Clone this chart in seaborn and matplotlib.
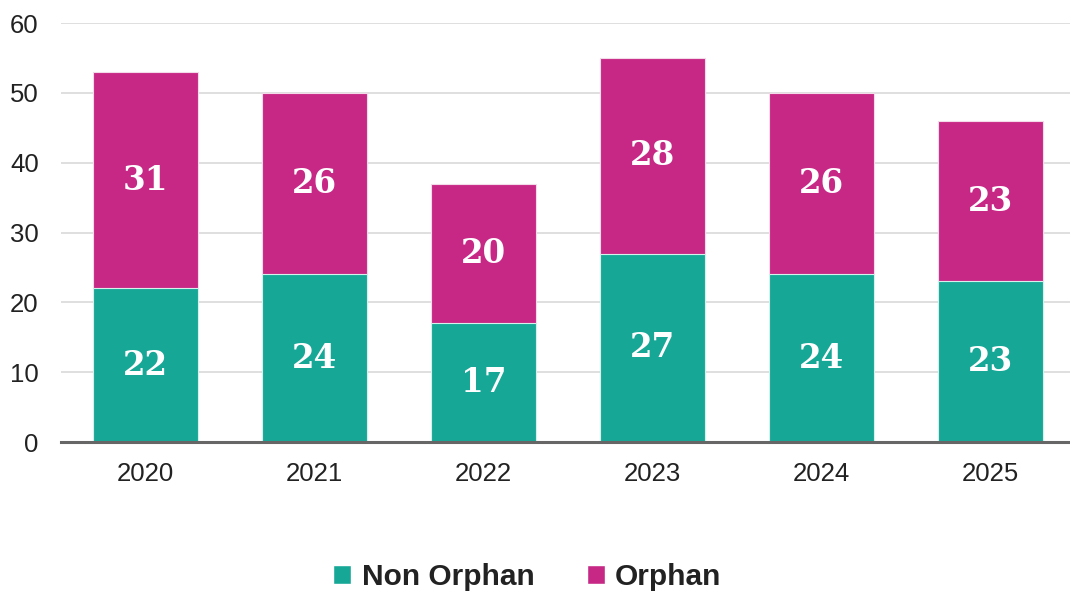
import numpy as np
import pandas as pd
import seaborn as sns
import matplotlib.pyplot as plt
from matplotlib.patches import Patch

# data
years = ['2020', '2021', '2022', '2023', '2024', '2025']
non_orphan = [22, 24, 17, 27, 24, 23]
orphan = [31, 26, 20, 28, 26, 23]

teal = '#17a797'
magenta = '#c72886'

df = pd.DataFrame({'year': years, 'non_orphan': non_orphan, 'orphan': orphan})
df['total'] = df['non_orphan'] + df['orphan']

sns.set_style('white')
plt.rcParams['font.family'] = ['Liberation Sans', 'DejaVu Sans']

fig = plt.figure(figsize=(10.7, 5.91), dpi=100)
ax = fig.add_axes([0.057, 0.252, 0.948, 0.709])

# stacked: total bar in magenta, non orphan drawn over it in teal
sns.barplot(data=df, x='year', y='total', color=magenta, width=0.62,
            edgecolor='#f4dbe9', linewidth=0.8, saturation=1, ax=ax, zorder=2)
sns.barplot(data=df, x='year', y='non_orphan', color=teal, width=0.62,
            edgecolor='#d6f0ec', linewidth=0.8, saturation=1, ax=ax, zorder=3)

# value labels
for i, row in df.iterrows():
    ax.text(i, row['non_orphan'] / 2, str(row['non_orphan']), ha='center', va='center',
            color='white', fontsize=23.5, fontweight='bold', family='DejaVu Serif', zorder=4)
    ax.text(i, row['non_orphan'] + row['orphan'] / 2, str(row['orphan']), ha='center',
            va='center', color='white', fontsize=23.5, fontweight='bold',
            family='DejaVu Serif', zorder=4)

ax.set_ylim(0, 60)
ax.set_xlim(-0.5, 5.5)
ax.set_yticks(range(0, 61, 10))
ax.yaxis.grid(True, color='#d9d9d9', linewidth=1.2, zorder=0)
ax.set_axisbelow(True)
for s in ['top', 'right', 'left']:
    ax.spines[s].set_visible(False)
ax.spines['bottom'].set_color('#666666')
ax.spines['bottom'].set_linewidth(2.2)
ax.spines['bottom'].set_zorder(5)
ax.tick_params(axis='y', length=0, pad=16, labelsize=18.5, labelcolor='#222222')
ax.tick_params(axis='x', length=0, pad=14, labelsize=18.5, labelcolor='#222222')
ax.set_xlabel('')
ax.set_ylabel('')

handles = [Patch(facecolor=teal, label='Non Orphan'), Patch(facecolor=magenta, label='Orphan')]
fig.legend(handles=handles, loc='center', bbox_to_anchor=(0.493, 0.023), ncol=2,
           frameon=False, handlelength=0.6, handleheight=0.6, handletextpad=0.35,
           columnspacing=1.75, prop={'size': 21.5, 'weight': 'bold'}, labelcolor='#222222')

fig.savefig('out.png', dpi=100)
